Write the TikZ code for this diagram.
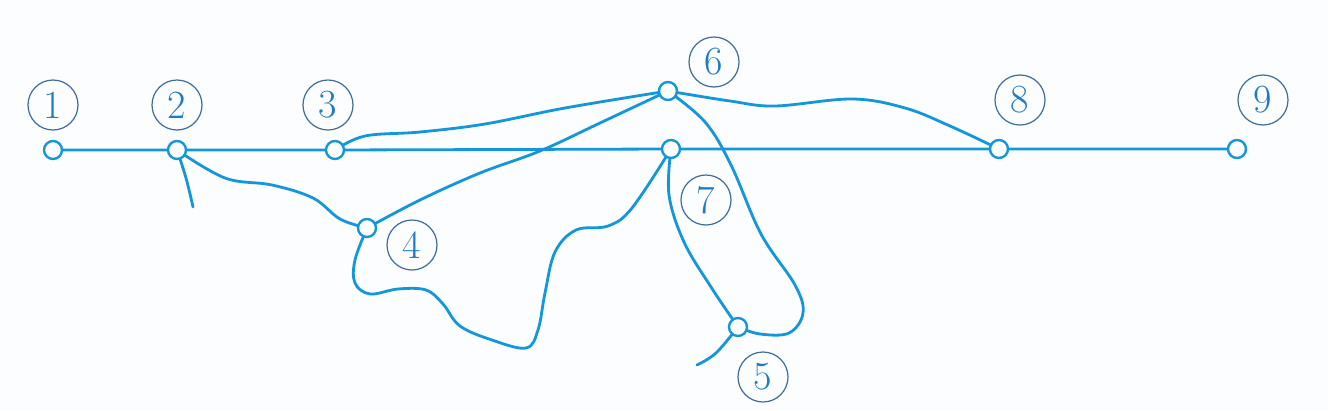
\documentclass[tikz,border=0pt]{standalone}
\usetikzlibrary{calc}
\pgfdeclarelayer{back}
\pgfdeclarelayer{wires}
\pgfsetlayers{back,wires,main}
\definecolor{wireblue}{HTML}{1497DA}
\definecolor{ringblue}{HTML}{3C6C9E}
\definecolor{digitblue}{HTML}{1F7AC4}
\definecolor{paper}{HTML}{FCFDFF}
\tikzset{
  junction/.style={circle, draw=wireblue, fill=white, line width=2.4pt, minimum size=18pt, inner sep=0pt},
  tag/.style={circle, draw=ringblue, line width=1.2pt, minimum size=50pt, inner sep=0pt, text=digitblue, font=\fontsize{40}{42}\selectfont},
  wire/.style={draw=wireblue, line width=2.8pt, line cap=round, line join=round},
}
\begin{document}
\begin{tikzpicture}[x=1pt, y=-1pt]
\begin{pgfonlayer}{back}
\fill[paper] (0,0) rectangle (1328,410);
\end{pgfonlayer}
\useasboundingbox (0,0) rectangle (1328,410);
% junctions
\node[junction] (n1) at (53,150) {};
\node[junction] (n2) at (177,150) {};
\node[junction] (n3) at (335,150) {};
\node[junction] (n4) at (367,228) {};
\node[junction] (n5) at (738,327) {};
\node[junction] (n6) at (668,91) {};
\node[junction] (n7) at (671,149) {};
\node[junction] (n8) at (999,149) {};
\node[junction] (n9) at (1237,149) {};
% labels
\node[tag] (l1) at (53,105) {1};
\node[tag] (l2) at (177,105) {2};
\node[tag] (l3) at (328,105) {3};
\node[tag] (l4) at (412,245) {4};
\node[tag] (l5) at (763,377) {5};
\node[tag] (l6) at (714,62) {6};
\node[tag] (l7) at (706,200) {7};
\node[tag] (l8) at (1020,100) {8};
\node[tag] (l9) at (1263,100) {9};
% free ends
\coordinate (t2) at (193,207);
\coordinate (t5) at (697,365);
\begin{pgfonlayer}{wires}
\draw[wire] (n1.center) -- (n2.center) -- (n3.center) -- (n7.center) -- (n8.center) -- (n9.center);
\draw[wire] plot[smooth, tension=0.6] coordinates {(n2.center) (186,178) (t2)};
\draw[wire] plot[smooth, tension=0.6] coordinates {(n2.center) (225,178) (272,185) (313,198) (340,219) (n4.center)};
\draw[wire] plot[smooth, tension=0.6] coordinates {(n3.center) (365,136) (420,132) (485,124) (565,108) (n6.center)};
\draw[wire] plot[smooth, tension=0.6] coordinates {(n4.center) (420,200) (480,173) (540,151) (600,123) (n6.center)};
\draw[wire] plot[smooth, tension=0.6] coordinates {(n4.center) (355,260) (355,283) (370,294) (398,289) (426,290) (443,304) (460,326) (492,340) (526,348) (538,330) (545,293) (555,252) (576,230) (608,226) (632,208) (n7.center)};
\draw[wire] plot[smooth, tension=0.6] coordinates {(n7.center) (669,195) (684,242) (711,287) (n5.center)};
\draw[wire] plot[smooth, tension=0.6] coordinates {(n6.center) (705,122) (731,165) (761,234) (795,285) (803,313) (789,333) (760,334) (n5.center)};
\draw[wire] plot[smooth, tension=0.6] coordinates {(n5.center) (716,353) (t5)};
\draw[wire] plot[smooth, tension=0.6] coordinates {(n6.center) (730,101) (775,106) (852,99) (905,108) (950,126) (n8.center)};
\end{pgfonlayer}
\end{tikzpicture}
\end{document}
